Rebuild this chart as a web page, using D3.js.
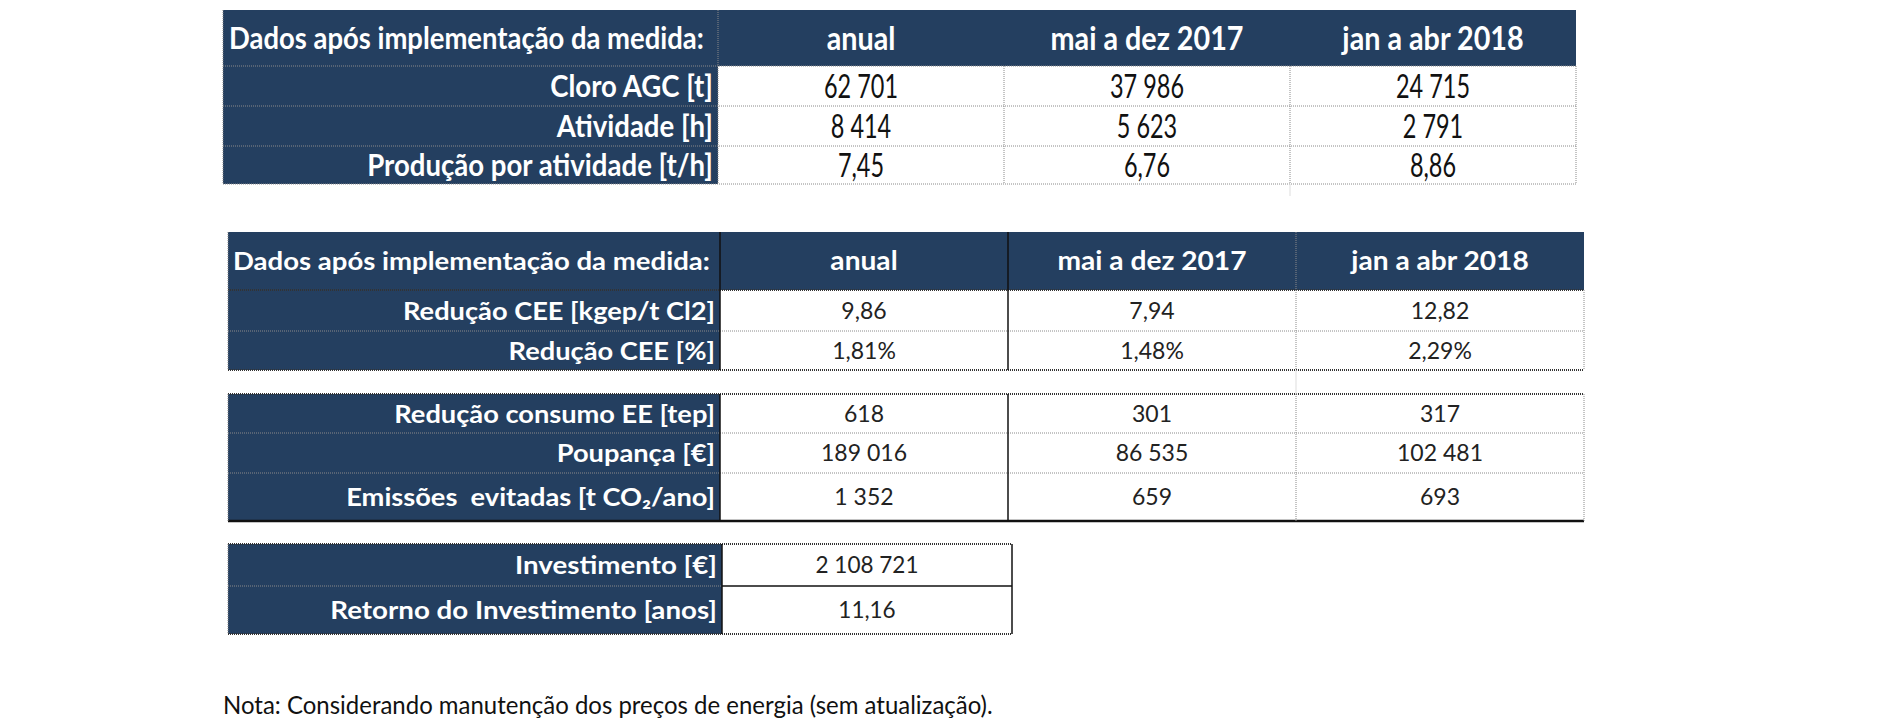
<!DOCTYPE html>
<html>
<head>
<meta charset="utf-8">
<script src="https://cdn.jsdelivr.net/npm/d3@7"></script>
<style>
  body { margin: 0; background: #fff; }
  text { font-family: Lato, "Open Sans", sans-serif; white-space: pre; }
</style>
</head>
<body>
<script>
// ---- data ----
var periods = ["anual", "mai a dez 2017", "jan a abr 2018"];
var headerLabel = "Dados após implementação da medida:";

var prodRows = ["Cloro AGC [t]", "Atividade [h]", "Produção por atividade [t/h]"];
var cloroAGC = [62701, 37986, 24715];
var atividade = [8414, 5623, 2791];
var producaoHora = [7.45, 6.76, 8.86];

var ceeRows = ["Redução CEE [kgep/t Cl2]", "Redução CEE [%]"];
var reducaoCEE = [9.86, 7.94, 12.82];
var reducaoCEEPct = [0.0181, 0.0148, 0.0229];

var consumoRows = ["Redução consumo EE [tep]", "Poupança [€]", "Emissões  evitadas [t CO₂/ano]"];
var reducaoConsumo = [618, 301, 317];
var poupanca = [189016, 86535, 102481];
var emissoes = [1352, 659, 693];

var investRows = ["Investimento [€]", "Retorno do Investimento [anos]"];
var investimento = [2108721];
var retornoAnos = [11.16];

var nota = "Nota: Considerando manutenção dos preços de energia (sem atualização).";

// ---- setup ----
var width = 1887, height = 720;
var navy = "#243f60";

var pt = d3.formatLocale({ decimal: ",", thousands: " ", grouping: [3], currency: ["", " €"] });
var fInt = pt.format(",d"), fDec = pt.format(",.2f"), fPct = pt.format(".2%");

var svg = d3.select("body").append("svg")
    .attr("width", width)
    .attr("height", height);

// horizontal squeeze so the text matches the narrow spreadsheet font
function squeeze(size, weight, txt, target) {
  var t = svg.append("text").attr("font-size", size).attr("font-weight", weight).text(txt);
  var w = t.node().getComputedTextLength();
  t.remove();
  return target / w;
}

function label(g, x, y, txt, o) {
  return g.append("text")
      .attr("transform", "translate(" + x + "," + y + ") scale(" + o.sx + ",1)")
      .attr("dy", "0.36em")
      .attr("text-anchor", o.anchor)
      .attr("font-size", o.size)
      .attr("font-weight", o.weight)
      .attr("fill", o.fill)
      .text(txt);
}

function style(size, weight, fill, anchor, ref, target) {
  return { sx: squeeze(size, weight, ref, target), size: size, weight: weight, fill: fill, anchor: anchor };
}

function line(g, x1, y1, x2, y2, s) {
  g.append("line")
    .attr("x1", x1).attr("y1", y1).attr("x2", x2).attr("y2", y2)
    .attr("stroke", s.color)
    .attr("stroke-width", s.w)
    .attr("stroke-dasharray", s.dash || null);
}

var dotted = { color: "#8a8a8a", w: 1, dash: "1,1" };
var dottedDark = { color: "#333", w: 2, dash: "1,1" };
var solid = { color: "#111", w: 1.5 };
var solidThick = { color: "#111", w: 2.5 };

// builds y positions of rows from their heights
function rowScale(rows, top, heights) {
  var ys = [top].concat(Array.from(d3.cumsum(heights), function(h) { return top + h; }));
  return { y: function(i) { return ys[i]; }, h: function(i) { return heights[i]; }, bottom: ys[rows.length] };
}

// ---------- Table 1 ----------
var t1 = svg.append("g");
var t1Left = 223, t1Label = 718, t1Right = 1576;
var x1 = d3.scaleBand().domain(periods).range([t1Label, t1Right]);
var t1HeadTop = 10, t1HeadBot = 66;
var r1 = rowScale(prodRows, t1HeadBot, [40, 40, 38]);
var t1Values = [cloroAGC.map(fInt), atividade.map(fInt), producaoHora.map(fDec)];
var s1Head = style(30, "bold", "#fff", "start", headerLabel, 475);
var s1Row = style(30, "bold", "#fff", "end", "Produção por atividade [t/h]", 346);
var s1Col = style(32, "bold", "#fff", "middle", "mai a dez 2017", 193);
var s1Val = style(32, "normal", "#111", "middle", "62 701", 74);

t1.append("rect").attr("x", t1Left).attr("y", t1HeadTop)
  .attr("width", t1Right - t1Left).attr("height", t1HeadBot - t1HeadTop).attr("fill", navy);
t1.append("rect").attr("x", t1Left).attr("y", t1HeadBot)
  .attr("width", t1Label - t1Left).attr("height", r1.bottom - t1HeadBot).attr("fill", navy);

label(t1, t1Left + 6, (t1HeadTop + t1HeadBot) / 2, headerLabel, s1Head);
periods.forEach(function(p) {
  label(t1, x1(p) + x1.bandwidth() / 2, (t1HeadTop + t1HeadBot) / 2, p, s1Col);
});
prodRows.forEach(function(r, i) {
  var cy = r1.y(i) + r1.h(i) / 2;
  label(t1, t1Label - 5, cy, r, s1Row);
  periods.forEach(function(p, j) {
    label(t1, x1(p) + x1.bandwidth() / 2, cy, t1Values[i][j], s1Val);
  });
});
[t1HeadBot, r1.y(1), r1.y(2), r1.bottom].forEach(function(y) { line(t1, t1Left, y, t1Right, y, dotted); });
[t1Left, t1Label, x1(periods[1]), x1(periods[2]), t1Right].forEach(function(x) {
  line(t1, x, x === t1Left || x === t1Label ? t1HeadTop : t1HeadBot, x, r1.bottom, dotted);
});
line(t1, x1(periods[2]), r1.bottom, x1(periods[2]), r1.bottom + 12, { color: "#ddd", w: 1 });

// ---------- Table 2 ----------
var t2 = svg.append("g");
var t2Left = 228, t2Label = 720, t2Right = 1584;
var x2 = d3.scaleBand().domain(periods).range([t2Label, t2Right]);
var t2HeadTop = 232, t2HeadBot = 290;
var r2a = rowScale(ceeRows, t2HeadBot, [41, 39]);
var r2b = rowScale(consumoRows, 394, [39, 40, 48]);
var s2Head = style(25, "bold", "#fff", "start", headerLabel, 477);
var s2Row = style(25, "bold", "#fff", "end", "Emissões  evitadas [t CO₂/ano]", 369);
var s2Col = style(26, "bold", "#fff", "middle", "mai a dez 2017", 189);
var s2Val = style(23, "normal", "#222", "middle", "189 016", 86);

t2.append("rect").attr("x", t2Left).attr("y", t2HeadTop)
  .attr("width", t2Right - t2Left).attr("height", t2HeadBot - t2HeadTop).attr("fill", navy);
t2.append("rect").attr("x", t2Left).attr("y", t2HeadBot)
  .attr("width", t2Label - t2Left).attr("height", r2a.bottom - t2HeadBot).attr("fill", navy);
t2.append("rect").attr("x", t2Left).attr("y", r2b.y(0))
  .attr("width", t2Label - t2Left).attr("height", r2b.bottom - r2b.y(0)).attr("fill", navy);

label(t2, t2Left + 5, (t2HeadTop + t2HeadBot) / 2, headerLabel, s2Head);
periods.forEach(function(p) {
  label(t2, x2(p) + x2.bandwidth() / 2, (t2HeadTop + t2HeadBot) / 2, p, s2Col);
});

function block2(rows, rs, values) {
  rows.forEach(function(r, i) {
    var cy = rs.y(i) + rs.h(i) / 2;
    label(t2, t2Label - 5, cy, r, s2Row);
    periods.forEach(function(p, j) {
      label(t2, x2(p) + x2.bandwidth() / 2, cy, values[i][j], s2Val);
    });
  });
}
block2(ceeRows, r2a, [reducaoCEE.map(fDec), reducaoCEEPct.map(fPct)]);
block2(consumoRows, r2b, [reducaoConsumo.map(fInt), poupanca.map(fInt), emissoes.map(fInt)]);

line(t2, t2Left, t2HeadBot, t2Right, t2HeadBot, dottedDark);
line(t2, t2Left, r2a.y(1), t2Right, r2a.y(1), dotted);
line(t2, t2Left, r2a.bottom, t2Right, r2a.bottom, dottedDark);
line(t2, t2Left, r2b.y(0), t2Right, r2b.y(0), dottedDark);
line(t2, t2Left, r2b.y(1), t2Right, r2b.y(1), dotted);
line(t2, t2Left, r2b.y(2), t2Right, r2b.y(2), dotted);
line(t2, t2Left, r2b.bottom, t2Right, r2b.bottom, solidThick);
[[t2HeadTop, r2a.bottom], [r2b.y(0), r2b.bottom]].forEach(function(span, k) {
  line(t2, t2Left, span[0], t2Left, span[1], dotted);
  line(t2, t2Label, span[0], t2Label, span[1], solid);
  line(t2, x2(periods[1]), span[0], x2(periods[1]), span[1], solid);
  line(t2, x2(periods[2]), span[0], x2(periods[2]), span[1], dotted);
  line(t2, t2Right, k === 0 ? t2HeadBot : span[0], t2Right, span[1], dotted);
});
line(t2, x2(periods[2]), r2a.bottom, x2(periods[2]), r2b.y(0), { color: "#ddd", w: 1 });

// ---------- Table 3 ----------
var t3 = svg.append("g");
var t3Left = 228, t3Label = 722, t3Right = 1012;
var x3 = d3.scaleBand().domain([periods[0]]).range([t3Label, t3Right]);
var r3 = rowScale(investRows, 544, [42, 48]);
var t3Values = [investimento.map(fInt), retornoAnos.map(fDec)];
var s3Row = style(25, "bold", "#fff", "end", "Retorno do Investimento [anos]", 387);
var s3Val = style(23, "normal", "#222", "middle", "2 108 721", 103);

t3.append("rect").attr("x", t3Left).attr("y", r3.y(0))
  .attr("width", t3Label - t3Left).attr("height", r3.bottom - r3.y(0)).attr("fill", navy);
investRows.forEach(function(r, i) {
  var cy = r3.y(i) + r3.h(i) / 2;
  label(t3, t3Label - 5, cy, r, s3Row);
  label(t3, x3(periods[0]) + x3.bandwidth() / 2, cy, t3Values[i][0], s3Val);
});
line(t3, t3Left, r3.y(0), t3Right, r3.y(0), dottedDark);
line(t3, t3Left, r3.y(1), t3Label, r3.y(1), dotted);
line(t3, t3Label, r3.y(1), t3Right, r3.y(1), solid);
line(t3, t3Left, r3.bottom, t3Right, r3.bottom, dottedDark);
line(t3, t3Left, r3.y(0), t3Left, r3.bottom, dotted);
line(t3, t3Label, r3.y(0), t3Label, r3.bottom, solid);
line(t3, t3Right, r3.y(0), t3Right, r3.bottom, solid);

// ---------- note ----------
var sNote = style(25, "normal", "#111", "start", nota, 770);
label(svg, 223, 705, nota, sNote);
</script>
</body>
</html>
